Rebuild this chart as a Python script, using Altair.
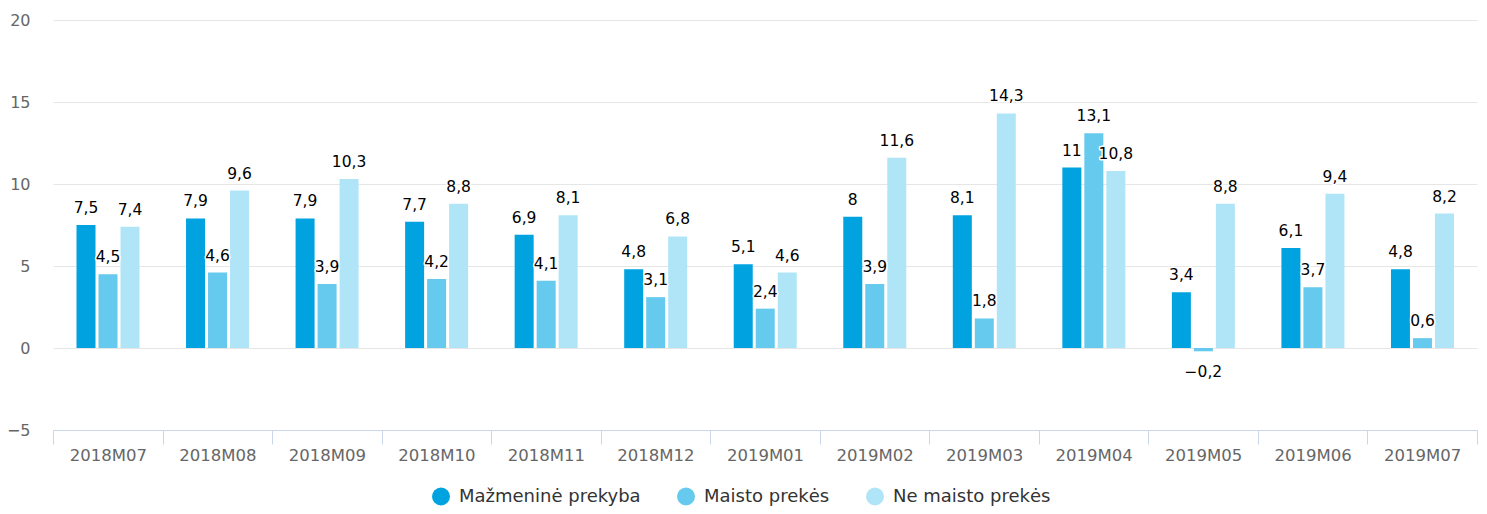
import altair as alt
import pandas as pd

months = ["2018M07", "2018M08", "2018M09", "2018M10", "2018M11", "2018M12",
          "2019M01", "2019M02", "2019M03", "2019M04", "2019M05", "2019M06", "2019M07"]
series_names = ["Mažmeninė prekyba", "Maisto prekės", "Ne maisto prekės"]
mazmenine = [7.5, 7.9, 7.9, 7.7, 6.9, 4.8, 5.1, 8, 8.1, 11, 3.4, 6.1, 4.8]
maisto = [4.5, 4.6, 3.9, 4.2, 4.1, 3.1, 2.4, 3.9, 1.8, 13.1, -0.2, 3.7, 0.6]
ne_maisto = [7.4, 9.6, 10.3, 8.8, 8.1, 6.8, 4.6, 11.6, 14.3, 10.8, 8.8, 9.4, 8.2]
colors = ["#00a3e0", "#66c9ee", "#b0e5f8"]
y_ticks = [-5, 0, 5, 10, 15, 20]

rows = []
for name, vals in zip(series_names, [mazmenine, maisto, ne_maisto]):
    for m, v in zip(months, vals):
        rows.append({"month": m, "series": name, "value": v})
df = pd.DataFrame(rows)

FONT = "DejaVu Sans"

x_enc = alt.X("month:N", sort=months, title=None,
              scale=alt.Scale(paddingInner=0, paddingOuter=0),
              axis=alt.Axis(labelAngle=0, tickBand="extent", domainColor="#ccd6eb",
                            tickColor="#ccd6eb", tickSize=14, labelPadding=3,
                            labelFontSize=16.5, labelColor="#666666", labelFont=FONT,
                            grid=False))
xoff_enc = alt.XOffset("series:N", sort=series_names,
                       scale=alt.Scale(range=[23.5, 86.5], paddingInner=0.136,
                                       paddingOuter=0))
y_enc = alt.Y("value:Q", title=None,
              scale=alt.Scale(domain=[-5, 20], nice=False, zero=False),
              axis=alt.Axis(values=y_ticks, domain=False, ticks=False, labelPadding=23,
                            labelFontSize=16, labelColor="#666666", labelFont=FONT,
                            gridColor="#e6e6e6", gridWidth=1))

base = alt.Chart(df).encode(x=x_enc, xOffset=xoff_enc, y=y_enc)

bars = base.mark_bar().encode(
    color=alt.Color("series:N", sort=series_names,
                    scale=alt.Scale(domain=series_names, range=colors),
                    legend=alt.Legend(orient="none", legendX=379, legendY=467.5,
                                      direction="horizontal", title=None,
                                      symbolType="circle", symbolSize=324,
                                      symbolStrokeWidth=0, labelFontSize=18,
                                      labelColor="#333333", labelFont=FONT,
                                      labelLimit=400, labelOffset=9,
                                      columnPadding=36))
)

labelled = base.transform_calculate(
    lab="replace(format(datum.value, '.1~f'), '.', ',')"
)

def text_layers(filt, dy):
    src = labelled.transform_filter(filt)
    halo = src.mark_text(fontSize=15.5, font=FONT, baseline="middle", dy=dy,
                         stroke="white", strokeWidth=3, strokeJoin="round",
                         fill="white").encode(text="lab:N")
    txt = src.mark_text(fontSize=15.5, font=FONT, baseline="middle", dy=dy,
                        color="#000000").encode(text="lab:N")
    return halo + txt

pos = text_layers("datum.value >= 0", -17)
neg = text_layers("datum.value < 0", 21)

chart = alt.layer(bars, pos, neg).properties(
    width=1424, height=410,
    autosize=alt.AutoSizeParams(type="none"),
    padding={"left": 45, "top": 12, "right": 2, "bottom": 76},
).configure_view(stroke=None)

chart.save("out.html", embed_options={"renderer": "svg", "actions": False})
